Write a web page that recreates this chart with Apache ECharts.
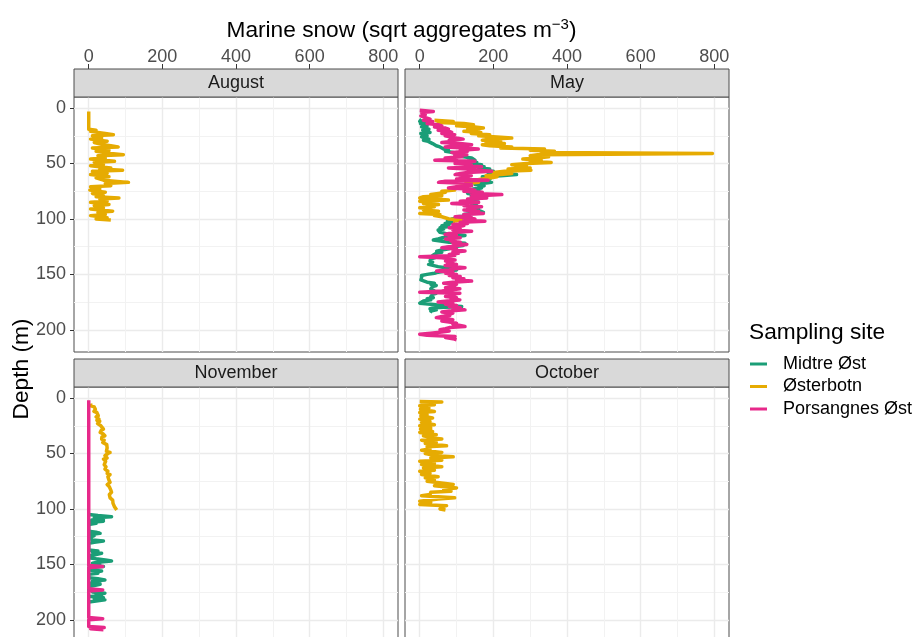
<!DOCTYPE html>
<html>
<head>
<meta charset="utf-8">
<script src="https://cdn.jsdelivr.net/npm/echarts@6/dist/echarts.min.js"></script>
<style>
html,body{margin:0;padding:0;background:#ffffff;}
#c{width:917px;height:637px;}
</style>
</head>
<body>
<div id="c"></div>
<script>
// ---------------- DATA ----------------
const facets = ['August', 'May', 'November', 'October'];
const sites = ['Midtre Øst', 'Østerbotn', 'Porsangnes Øst'];
const xTicks = [0, 200, 400, 600, 800];
const xMinorTicks = [100, 300, 500, 700];
const yTicks = [0, 50, 100, 150, 200];
const yMinorTicks = [25, 75, 125, 175];

// each point: [depth (m), marine snow (sqrt aggregates m^-3)]
const augOsterbotn = [[3,0],[19,0],[20,20],[21,5],[23,45],[24,67],[25,10],[27,35],[28,5],[30,50],[31,15],[33,40],[34,60],[35,80],[36,10],[38,55],[39,20],[41,60],[42,94],[43,25],[45,45],[46,5],[48,70],[49,15],[51,40],[52,5],[54,60],[55,30],[56,92],[57,10],[59,50],[60,5],[62,55],[63,20],[65,40],[66,70],[67,108],[68,45],[70,60],[71,5],[73,30],[74,3],[76,45],[77,10],[79,40],[80,20],[81,82],[82,30],[84,50],[85,5],[87,55],[88,15],[90,40],[91,5],[93,65],[94,25],[96,45],[97,5],[99,50],[100,20],[101,60]];

const mayMidtre = [[10,5],[12,0],[13,15],[14,2],[16,20],[17,5],[19,25],[20,8],[22,28],[23,3],[25,20],[26,5],[28,25],[29,10],[30,23],[31,28],[32,35],[34,45],[35,55],[36,50],[37,65],[38,78],[39,70],[40,90],[41,85],[42,105],[43,100],[44,120],[45,141],[46,146],[47,150],[48,130],[49,155],[50,140],[51,168],[52,150],[53,175],[54,160],[55,190],[56,170],[57,200],[58,185],[59,230],[60,263],[61,220],[62,170],[63,185],[64,191],[65,195],[66,160],[67,195],[68,170],[69,150],[70,175],[71,160],[72,168],[73,145],[74,160],[75,140],[76,165],[77,130],[78,160],[79,140],[80,170],[81,145],[82,160],[83,130],[84,150],[85,135],[86,155],[87,150],[88,140],[89,155],[90,141],[91,160],[92,130],[93,165],[94,173],[95,140],[96,120],[97,135],[98,100],[99,115],[100,87],[101,95],[102,75],[103,91],[104,69],[105,80],[106,60],[107,75],[108,55],[109,65],[110,50],[111,46],[112,55],[113,70],[114,100],[115,123],[116,90],[117,60],[118,50],[119,37],[120,41],[121,80],[122,123],[123,100],[124,118],[125,90],[126,70],[127,80],[128,60],[129,46],[130,60],[131,45],[132,40],[133,35],[134,50],[135,40],[136,30],[137,35],[138,28],[139,35],[140,30],[141,24],[142,28],[143,50],[144,70],[145,90],[146,100],[147,70],[148,50],[149,40],[150,20],[151,5],[152,0],[153,5],[154,0],[155,3],[156,0],[157,20],[158,40],[159,30],[160,45],[161,35],[162,40],[163,30],[164,28],[165,40],[166,30],[167,45],[168,35],[169,40],[170,30],[171,37],[172,20],[173,30],[174,10],[175,5],[176,0],[177,30],[178,60],[179,114],[180,40],[181,28],[182,45],[183,30],[184,35]];

const mayOsterbotn = [[11,40],[12,91],[13,50],[14,120],[15,146],[16,100],[17,150],[18,173],[19,130],[20,160],[21,120],[22,166],[23,140],[24,190],[25,160],[26,210],[27,250],[28,190],[29,170],[30,220],[31,180],[32,230],[33,170],[34,190],[35,250],[36,220],[37,339],[38,300],[39,366],[40,330],[41,795],[42,320],[43,300],[44,350],[45,320],[46,280],[47,330],[48,300],[49,357],[50,290],[51,250],[52,290],[53,260],[54,300],[55,240],[56,302],[57,230],[58,200],[59,250],[60,220],[61,180],[62,210],[63,190],[64,170],[65,150],[66,130],[67,160],[68,125],[70,120],[71,100],[72,109],[73,80],[74,95],[75,60],[76,70],[77,51],[78,30],[79,60],[80,10],[81,0],[82,40],[83,78],[84,0],[85,30],[86,10],[87,51],[88,20],[89,40],[90,0],[91,30],[92,10],[93,51],[94,20],[95,0],[96,55],[97,40],[98,60],[99,56],[100,80],[101,114],[102,90]];

const mayPorsangnes = [[2,0],[3,37],[4,5],[6,15],[7,3],[9,20],[10,28],[11,10],[12,35],[13,37],[14,20],[15,50],[16,60],[17,40],[18,70],[19,78],[20,50],[21,80],[22,87],[23,60],[24,95],[25,69],[26,85],[27,100],[28,118],[29,80],[30,90],[31,60],[32,110],[33,141],[34,100],[35,69],[36,120],[37,159],[38,110],[39,130],[40,87],[41,110],[42,128],[43,95],[44,115],[45,69],[46,100],[47,41],[48,150],[49,110],[50,96],[51,140],[52,120],[53,168],[54,78],[55,130],[56,150],[57,195],[58,130],[59,110],[60,96],[61,140],[62,110],[63,132],[64,100],[65,186],[66,69],[67,51],[68,140],[69,123],[70,141],[71,100],[72,78],[73,130],[74,150],[75,120],[76,170],[77,140],[78,223],[79,160],[80,140],[81,182],[82,130],[83,150],[84,110],[85,160],[86,87],[87,140],[88,120],[89,168],[90,130],[91,150],[92,120],[93,160],[94,140],[95,173],[96,120],[97,140],[98,96],[99,130],[100,150],[101,120],[102,177],[103,110],[104,130],[105,90],[106,120],[107,105],[108,80],[109,110],[110,90],[111,141],[112,100],[113,80],[114,69],[115,100],[116,80],[117,110],[118,70],[119,96],[120,85],[121,110],[122,90],[123,128],[124,100],[125,80],[126,60],[127,100],[128,90],[129,123],[130,90],[131,105],[132,80],[133,95],[134,0],[135,60],[136,80],[137,96],[138,70],[139,90],[140,75],[141,100],[142,69],[143,95],[144,123],[145,96],[146,80],[147,46],[148,90],[149,70],[150,100],[151,80],[152,110],[153,90],[154,120],[155,100],[156,141],[157,90],[158,65],[159,100],[160,80],[161,95],[162,70],[163,109],[164,85],[165,60],[166,0],[167,109],[168,80],[169,95],[170,70],[171,100],[172,85],[173,109],[174,75],[175,50],[176,90],[177,70],[178,100],[179,80],[180,110],[181,90],[182,123],[183,80],[184,60],[185,90],[186,70],[187,82],[188,60],[189,45],[190,70],[191,90],[192,60],[193,80],[194,100],[195,90],[196,110],[197,123],[198,80],[199,70],[200,55],[201,80],[202,60],[203,30],[204,0],[205,20],[206,96],[207,70],[208,90],[209,100]];

const novMidtre = [[105,0],[106,25],[107,62],[108,15],[109,40],[110,8],[111,40],[112,5],[113,20],[114,0],[120,0],[121,20],[122,31],[123,5],[124,15],[126,0],[128,10],[129,40],[130,15],[131,0],[137,0],[138,25],[139,10],[140,35],[141,20],[142,5],[144,0],[145,20],[146,45],[147,62],[148,25],[149,10],[150,30],[151,10],[152,40],[153,0],[155,0],[156,35],[157,15],[158,25],[159,0],[162,0],[163,25],[164,44],[165,10],[166,30],[167,5],[168,31],[169,15],[170,0],[173,0],[174,30],[175,10],[176,44],[177,20],[178,35],[179,5],[180,40],[181,15],[182,44],[183,20],[184,0]];

const novOsterbotn = [[5,5],[6,10],[7,6],[8,15],[9,12],[10,18],[12,14],[13,22],[14,17],[16,26],[17,20],[19,28],[20,22],[21,30],[23,24],[25,33],[26,28],[28,40],[29,34],[31,31],[32,38],[34,44],[35,36],[37,35],[38,42],[40,38],[42,49],[43,45],[45,50],[46,53],[48,48],[49,58],[50,52],[52,44],[54,50],[55,40],[57,46],[58,49],[60,42],[62,47],[64,44],[66,52],[68,50],[69,58],[71,52],[72,49],[74,55],[76,58],[78,50],[80,56],[81,53],[83,60],[85,62],[87,56],[88,60],[90,58],[92,65],[93,67],[95,66],[96,71],[98,70],[99,74],[101,76]];

const novPorsangnes = [[2,0],[151,0],[152,38],[153,0],[172,0],[173,38],[174,0],[198,0],[199,38],[200,0],[206,0],[207,42],[208,5],[209,40]];

const octOsterbotn = [[3,0],[3.5,60],[4,5],[6,40],[7,0],[9,25],[10,2],[12,40],[13,0],[15,20],[16,3],[18,35],[19,0],[21,28],[22,5],[24,40],[25,0],[27,30],[28,2],[30,35],[31,0],[33,45],[34,10],[36,35],[37,60],[38,5],[40,45],[41,15],[43,73],[44,20],[46,28],[47,5],[49,60],[50,15],[52,45],[53,91],[54,30],[56,60],[57,0],[59,40],[60,5],[62,60],[63,10],[65,40],[66,0],[68,28],[69,5],[71,50],[72,15],[74,40],[75,20],[77,70],[78,91],[79,40],[81,100],[82,65],[84,85],[85,30],[87,28],[88,5],[90,95],[91,50],[93,0],[94,30],[96,0],[97,73],[98,60],[100,55],[101,70]];

// ---------------- STYLE / LAYOUT ----------------
const siteColors = {'Midtre Øst': '#1B9E77', 'Østerbotn': '#E6AB02', 'Porsangnes Øst': '#E7298A'};
const FONT = '"Liberation Sans", Arial, sans-serif';
const PW = 324, PH = 255, STRIP = 28;
const panelDefs = [
  {name: facets[0], left: 74,  top: 97,  row: 0, col: 0, series: {'Østerbotn': augOsterbotn}},
  {name: facets[1], left: 405, top: 97,  row: 0, col: 1, series: {'Midtre Øst': mayMidtre, 'Østerbotn': mayOsterbotn, 'Porsangnes Øst': mayPorsangnes}},
  {name: facets[2], left: 74,  top: 387, row: 1, col: 0, series: {'Midtre Øst': novMidtre, 'Østerbotn': novOsterbotn, 'Porsangnes Øst': novPorsangnes}},
  {name: facets[3], left: 405, top: 387, row: 1, col: 1, series: {'Østerbotn': octOsterbotn}}
];

const grids = [], xAxes = [], yAxes = [], series = [], graphics = [];

panelDefs.forEach((p, i) => {
  grids.push({left: p.left, top: p.top, width: PW, height: PH, show: true,
    backgroundColor: '#ffffff', borderColor: '#4d4d4d', borderWidth: 1,
    containLabel: false, outerBoundsMode: 'none'});
  xAxes.push({type: 'value', gridIndex: i, min: -40, max: 840, position: 'top', offset: STRIP,
    axisLine: {show: false, onZero: false},
    axisTick: {show: p.row === 0, length: 5, lineStyle: {color: '#333333', width: 1}, customValues: xTicks},
    axisLabel: {show: p.row === 0, customValues: xTicks, margin: 3, fontSize: 18, color: '#4D4D4D', fontFamily: FONT},
    splitLine: {show: true, lineStyle: {color: '#EBEBEB', width: 1.4}}});
  yAxes.push({type: 'value', gridIndex: i, min: -10, max: 220, inverse: true, position: 'left',
    axisLine: {show: false, onZero: false},
    axisTick: {show: p.col === 0, length: 4, lineStyle: {color: '#333333', width: 1}, customValues: yTicks},
    axisLabel: {show: p.col === 0, customValues: yTicks, margin: 8, fontSize: 18, color: '#4D4D4D', fontFamily: FONT},
    splitLine: {show: true, lineStyle: {color: '#EBEBEB', width: 1.4}}});
});
// minor grid axes
panelDefs.forEach((p, i) => {
  xAxes.push({type: 'value', gridIndex: i, min: -40, max: 840, position: 'top',
    axisLine: {show: false, onZero: false}, axisTick: {show: false, customValues: xMinorTicks},
    axisLabel: {show: false, customValues: xMinorTicks},
    splitLine: {show: true, lineStyle: {color: '#F2F2F2', width: 1}}});
  yAxes.push({type: 'value', gridIndex: i, min: -10, max: 220, inverse: true, position: 'left',
    axisLine: {show: false, onZero: false}, axisTick: {show: false, customValues: yMinorTicks},
    axisLabel: {show: false, customValues: yMinorTicks},
    splitLine: {show: true, lineStyle: {color: '#F2F2F2', width: 1}}});
});

panelDefs.forEach((p, i) => {
  sites.forEach(site => {
    const pts = p.series[site];
    if (!pts) return;
    series.push({
      name: site, type: 'line', xAxisIndex: i, yAxisIndex: i,
      data: pts.map(d => [d[1], d[0]]),
      showSymbol: false, symbol: 'none', clip: true, animation: false, silent: true,
      itemStyle: {color: siteColors[site]},
      lineStyle: {color: siteColors[site], width: 3.5, join: 'round', cap: 'butt'}
    });
  });
  graphics.push({type: 'rect', shape: {x: p.left, y: p.top - STRIP, width: PW, height: STRIP},
    style: {fill: '#D9D9D9', stroke: '#4d4d4d', lineWidth: 1}, z: 10});
  graphics.push({type: 'text', x: p.left + PW / 2, y: p.top - STRIP / 2, z: 11,
    style: {text: p.name, fill: '#1A1A1A', fontSize: 18, fontFamily: FONT,
      align: 'center', verticalAlign: 'middle', textAlign: 'center', textVerticalAlign: 'middle'}});
});

graphics.push({type: 'text', x: 401.5, y: 31, z: 11,
  style: {text: '{a|Marine snow (sqrt aggregates m}{s|−3}{a|)}', fill: '#000',
    align: 'center', verticalAlign: 'middle', textAlign: 'center', textVerticalAlign: 'middle',
    rich: {a: {fontSize: 22.7, fontFamily: FONT, fill: '#000', lineHeight: 28},
           s: {fontSize: 15, fontFamily: FONT, fill: '#000', verticalAlign: 'top', lineHeight: 16}}}});
graphics.push({type: 'text', x: 22, y: 369, rotation: Math.PI / 2, z: 11,
  style: {text: 'Depth (m)', fill: '#000', fontSize: 22.7, fontFamily: FONT,
    align: 'center', verticalAlign: 'middle', textAlign: 'center', textVerticalAlign: 'middle'}});
graphics.push({type: 'text', x: 749, y: 333, z: 11,
  style: {text: 'Sampling site', fill: '#000', fontSize: 22.7, fontFamily: FONT,
    align: 'left', verticalAlign: 'middle', textAlign: 'left', textVerticalAlign: 'middle'}});

const chart = echarts.init(document.getElementById('c'), null, {renderer: 'canvas', width: 917, height: 637});
chart.setOption({
  animation: false,
  backgroundColor: '#ffffff',
  textStyle: {fontFamily: FONT},
  grid: grids,
  xAxis: xAxes,
  yAxis: yAxes,
  legend: {
    orient: 'vertical', left: 750, top: 355, padding: 0, itemWidth: 17, itemHeight: 3, itemGap: 4.5,
    icon: 'rect', data: sites, selectedMode: false,
    textStyle: {fontSize: 18, color: '#000', fontFamily: FONT, padding: [0, 0, 0, 11]}
  },
  series: series,
  graphic: graphics
});
</script>
</body>
</html>
